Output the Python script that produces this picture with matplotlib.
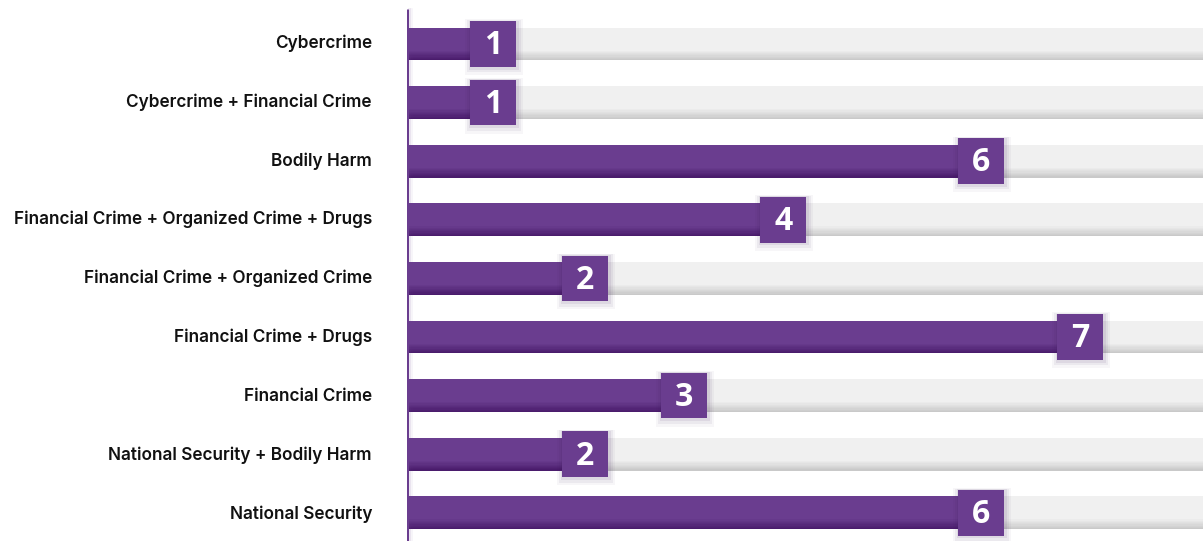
import matplotlib
matplotlib.use("Agg")
import matplotlib.pyplot as plt
from matplotlib.patches import Rectangle
import numpy as np

categories = [
    "Cybercrime",
    "Cybercrime + Financial Crime",
    "Bodily Harm",
    "Financial Crime + Organized Crime + Drugs",
    "Financial Crime + Organized Crime",
    "Financial Crime + Drugs",
    "Financial Crime",
    "National Security + Bodily Harm",
    "National Security",
]
values = [1, 1, 6, 4, 2, 7, 3, 2, 6]
xmax = 8.04

purple = "#6a3d8f"
purple_dark = "#4a1c6c"
grey = "#f0f0f0"
grey_dark = "#c9c9c9"

W, H = 1203, 541
fig = plt.figure(figsize=(W / 100, H / 100), dpi=100)
ax = fig.add_axes([407 / W, 0, 1 - 407 / W, 1])
ax.set_xlim(0, xmax)
ax.set_ylim(8.48, -0.75)
ax.axis("off")

y = np.arange(len(categories))
bh = 0.56

def grad_bar(ypos, width, left, c_top, c_bot, n=8, frac=0.3):
    ax.barh(ypos, width, height=bh, left=left, color=c_top, linewidth=0, zorder=2)
    top = ypos + bh / 2 - bh * frac
    step = bh * frac / n
    for k in range(n):
        t = (k + 1) / n
        c = np.array(matplotlib.colors.to_rgb(c_top)) * (1 - t) + np.array(matplotlib.colors.to_rgb(c_bot)) * t
        ax.barh(top + step * (k + 0.5), width, height=step, left=left, color=c,
                linewidth=0, zorder=2)

for yi, v in zip(y, values):
    grad_bar(yi, xmax - v, v, grey, grey_dark)
    grad_bar(yi, v, 0, purple, purple_dark)

bw = 46 / 99
bhh = 0.78
for yi, v in zip(y, values):
    cx = max(v - 0.2, 0.87)
    for s, a in [(0.06, 0.04), (0.04, 0.06), (0.02, 0.08)]:
        ax.add_patch(Rectangle((cx - bw / 2 - s + 0.01, yi - bhh / 2 - s * 0.5), bw + 2 * s,
                               bhh + 2.8 * s, color="#3a1a55", alpha=a, linewidth=0, zorder=3))
    ax.add_patch(Rectangle((cx - bw / 2, yi - bhh / 2), bw, bhh, color=purple,
                           linewidth=0, zorder=4))
    ax.text(cx, yi + 0.03, str(v), ha="center", va="center", color="white",
            fontsize=23, fontweight="bold", family="Open Sans", zorder=5)

# axis line
ax.plot([0.0, 0.0], [-0.6, 8.48], color=purple, lw=2.2, zorder=6, solid_capstyle="butt")
for s, a in [(0.02, 0.10), (0.04, 0.05)]:
    ax.plot([s, s], [-0.6, 8.48], color=purple, lw=2, alpha=a, zorder=6)

# fit label font size so the longest label spans ~361 px
renderer = fig.canvas.get_renderer()
probe = fig.text(0, 0, max(categories, key=len), fontsize=12, fontweight="semibold", family="Inter")
wpx = probe.get_window_extent(renderer).width
probe.remove()
fs = 12 * 361 / wpx

for yi, c in zip(y, categories):
    fig.text(372 / W, 1 - (43 + 58.9 * yi) / H, c, ha="right", va="center",
             fontsize=fs, fontweight="semibold", family="Inter", color="#111111")

fig.savefig("out.png", dpi=100)
